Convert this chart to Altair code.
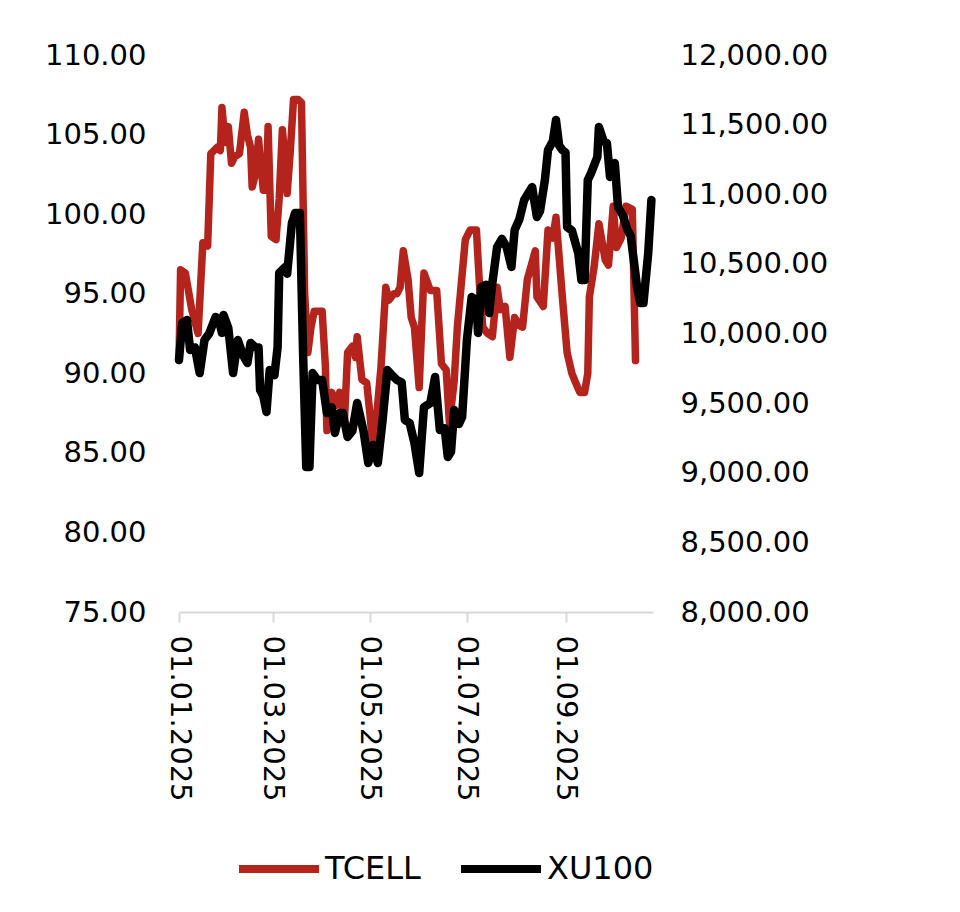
import altair as alt
import pandas as pd

# TCELL (left axis) – day offsets from 01.01.2025 and closing values
tcell_days = [0, 1, 4, 8, 12, 15, 18, 20, 24, 26, 27, 29, 31, 33, 35, 38, 41, 43, 45, 46,
              48, 50, 53, 55, 56, 58, 61, 63, 65, 67, 68, 70, 72, 75, 77, 79, 81, 83, 85, 90,
              92, 93, 96, 99, 101, 104, 106, 109, 111, 112, 115, 118, 120, 122, 124, 127, 130, 132, 135, 137,
              139, 141, 143, 144, 146, 148, 151, 154, 158, 162, 165, 168, 170, 173, 175, 180, 183, 187, 189, 191,
              194, 197, 200, 202, 205, 208, 211, 214, 216, 219, 224, 225, 229, 232, 235, 237, 241, 244, 247, 249,
              252, 255, 257, 258, 261, 264, 268, 270, 273, 275, 278, 281, 285, 287]
tcell_values = [90.8, 96.5, 96.3, 94.0, 92.5, 98.2, 98.0, 103.8, 104.2, 104.0, 106.7, 104.5, 105.5, 103.2, 103.6, 103.8, 106.4, 105.0, 104.2, 101.7,
                102.5, 104.7, 101.5, 101.5, 105.5, 98.6, 98.4, 101.0, 105.3, 103.0, 101.3, 104.0, 107.2, 107.2, 107.0, 95.0, 91.3, 92.9, 93.9, 93.9,
                90.5, 86.4, 88.8, 88.0, 88.8, 87.0, 91.3, 91.7, 91.0, 92.3, 89.6, 89.4, 87.5, 85.2, 87.0, 90.4, 95.4, 94.6, 95.0, 95.0,
                95.4, 97.7, 96.5, 95.9, 93.5, 92.9, 89.1, 96.3, 95.2, 95.2, 90.6, 90.2, 86.9, 89.5, 92.9, 98.4, 99.0, 99.0, 95.4, 92.9,
                92.5, 92.3, 95.4, 94.0, 94.2, 91.0, 93.5, 93.0, 92.9, 95.9, 97.7, 94.8, 94.2, 99.0, 98.5, 99.8, 94.8, 91.3, 90.0, 89.5,
                88.8, 88.8, 90.0, 94.8, 96.7, 99.4, 97.1, 96.8, 100.5, 97.9, 98.5, 100.5, 100.3, 90.8]

# XU100 (right axis)
xu100_days = [0, 2, 5, 7, 10, 13, 16, 19, 23, 25, 27, 28, 31, 34, 37, 40, 43, 45, 48, 50,
              51, 53, 55, 57, 60, 62, 63, 67, 68, 71, 73, 76, 78, 80, 82, 84, 87, 90, 93, 96,
              98, 101, 103, 106, 109, 112, 116, 119, 122, 125, 128, 131, 134, 137, 140, 142, 145, 148, 151, 154,
              158, 161, 164, 167, 169, 171, 173, 176, 178, 181, 184, 187, 188, 190, 193, 195, 197, 200, 203, 206,
              209, 211, 214, 217, 222, 225, 227, 230, 232, 235, 237, 239, 241, 243, 244, 247, 251, 253, 255, 257,
              259, 263, 264, 267, 269, 271, 274, 276, 279, 282, 284, 288, 290, 292, 295, 297]
xu100_values = [9810, 10075, 10097, 9882, 9900, 9716, 9953, 10000, 10119, 10100, 10004, 10133, 10040, 9716, 9953, 9850, 9788, 9932, 9900, 9900,
                9594, 9550, 9436, 9738, 9700, 9903, 10434, 10480, 10430, 10794, 10865, 10865, 9860, 9041, 9041, 9716, 9666, 9666, 9429, 9470,
                9286, 9429, 9429, 9257, 9300, 9501, 9300, 9070, 9200, 9070, 9379, 9738, 9700, 9666, 9650, 9379, 9357, 9214, 8998, 9472,
                9500, 9688, 9307, 9320, 9113, 9150, 9451, 9350, 9400, 9953, 10262, 10240, 10004, 10334, 10350, 10147, 10363, 10621, 10680, 10620,
                10478, 10743, 10820, 10959, 11052, 10837, 10880, 11100, 11318, 11380, 11533, 11350, 11318, 11300, 10765, 10740, 10578, 10384, 10384, 11102,
                11150, 11268, 11483, 11380, 11368, 11124, 11224, 10908, 10850, 10743, 10700, 10334, 10219, 10219, 10578, 10959]

series_names = ["TCELL", "XU100"]
series_colors = ["#B4241C", "#000000"]
tick_months = [1, 3, 5, 7, 9]
left_ticks = [75, 80, 85, 90, 95, 100, 105, 110]
right_ticks = [8000, 8500, 9000, 9500, 10000, 10500, 11000, 11500, 12000]

base = pd.Timestamp("2025-01-01")


def to_dates(days):
    return [(base + pd.Timedelta(days=d)).strftime("%Y-%m-%dT00:00:00") for d in days]


tcell_df = pd.DataFrame({"date": to_dates(tcell_days), "value": tcell_values, "series": "TCELL"})
xu100_df = pd.DataFrame({"date": to_dates(xu100_days), "value": xu100_values, "series": "XU100"})

FONT = "DejaVu Sans"

x_enc = alt.X(
    "date:T",
    scale=alt.Scale(domain=[alt.DateTime(year=2025, month=1, date=1),
                            alt.DateTime(year=2025, month=10, date=26)]),
    axis=alt.Axis(
        title=None,
        values=[alt.DateTime(year=2025, month=m, date=1) for m in tick_months],
        format="%d.%m.%Y",
        labelAngle=90,
        labelAlign="left",
        labelBaseline="middle",
        labelPadding=13,
        tickSize=10,
        tickWidth=2,
        tickColor="#d9d9d9",
        domainColor="#d9d9d9",
        domainWidth=2,
        grid=False,
    ),
)

legend = alt.Legend(
    title=None,
    orient="none",
    legendX=56,
    legendY=770,
    direction="horizontal",
    symbolType="stroke",
    symbolSize=6400,
    symbolStrokeWidth=8,
    labelFont=FONT,
    labelFontSize=32,
    labelColor="#000000",
    labelOffset=2,
    columnPadding=24,
    padding=0,
)

color_enc = alt.Color(
    "series:N",
    scale=alt.Scale(domain=series_names, range=series_colors),
    legend=legend,
)

left = alt.Chart(tcell_df).mark_line(strokeWidth=7.5, strokeJoin="round", strokeCap="round").encode(
    x=x_enc,
    y=alt.Y(
        "value:Q",
        scale=alt.Scale(domain=[75, 110], nice=False, zero=False),
        axis=alt.Axis(title=None, orient="left", values=left_ticks, format=".2f",
                      domain=False, ticks=False, grid=False, labelPadding=33),
    ),
    color=color_enc,
)

right = alt.Chart(xu100_df).mark_line(strokeWidth=8.5, strokeJoin="round", strokeCap="round").encode(
    x=x_enc,
    y=alt.Y(
        "value:Q",
        scale=alt.Scale(domain=[8000, 12000], nice=False, zero=False),
        axis=alt.Axis(title=None, orient="right", values=right_ticks, format=",.2f",
                      domain=False, ticks=False, grid=False, labelPadding=27),
    ),
    color=color_enc,
)

chart = (
    alt.layer(left, right)
    .resolve_scale(y="independent")
    .properties(width=474, height=557, padding={"left": 36, "top": 33, "right": 5, "bottom": 5})
    .configure_view(stroke=None)
    .configure_axis(labelFont=FONT, labelFontSize=29, labelColor="#000000")
)

chart.save("out.html", embed_options={"renderer": "svg", "actions": False})
